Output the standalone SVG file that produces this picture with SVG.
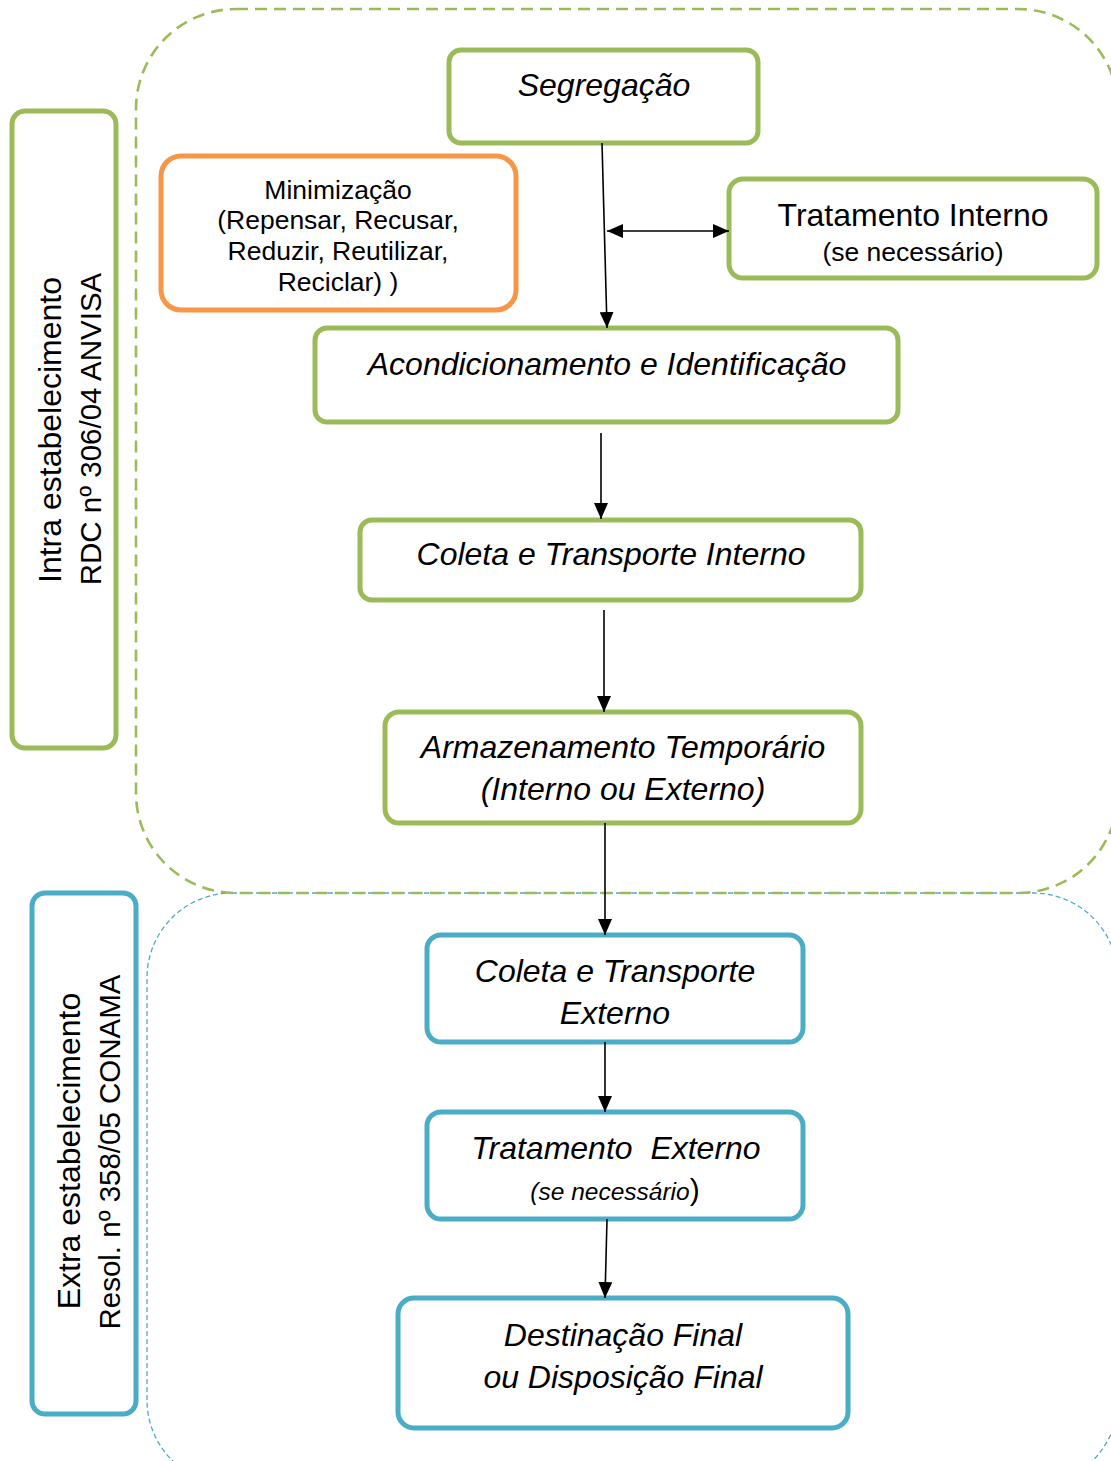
<svg xmlns="http://www.w3.org/2000/svg" width="1111" height="1461" viewBox="0 0 1111 1461">
<defs>
<style>
.t{font-family:"Liberation Sans",Arial,sans-serif;fill:#000;text-anchor:middle}
.i{font-style:italic}
.g{fill:#fff;stroke:#9BBB59;stroke-width:5}
.b{fill:#fff;stroke:#4BACC6;stroke-width:5}
.o{fill:#fff;stroke:#F79646;stroke-width:5}
.c{fill:none;stroke:#000;stroke-width:1.6}
</style>
<marker id="ah" viewBox="0 0 16 14" refX="16" refY="7" markerWidth="16" markerHeight="14" markerUnits="userSpaceOnUse" orient="auto-start-reverse">
<path d="M0,0 L16,7 L0,14 Z" fill="#000"/>
</marker>
</defs>
<rect x="0" y="0" width="1111" height="1461" fill="#fff"/>
<g id="region-extra">
<rect x="147" y="893" width="971" height="592" rx="85" ry="85" fill="none" stroke="#4BACC6" stroke-width="1.3" stroke-dasharray="5 3"/>
</g>
<g id="region-intra">
<rect x="136" y="9" width="982" height="884" rx="100" ry="100" fill="none" stroke="#9BBB59" stroke-width="2.6" stroke-dasharray="12 7"/>
</g>
<g id="label-intra">
<rect class="g" x="12" y="111" width="104" height="637" rx="13"/>
<text class="t" font-size="32" transform="translate(61,430) rotate(-90)">Intra estabelecimento</text>
<text class="t" font-size="29.5" transform="translate(101,429) rotate(-90)">RDC nº 306/04 ANVISA</text>
</g>
<g id="label-extra">
<rect class="b" x="32" y="893" width="104" height="521" rx="13"/>
<text class="t" font-size="32" transform="translate(80,1151) rotate(-90)">Extra estabelecimento</text>
<text class="t" font-size="29.5" transform="translate(120,1152) rotate(-90)">Resol. nº 358/05 CONAMA</text>
</g>
<g id="n-segregacao">
<rect class="g" x="449" y="50" width="309" height="93" rx="12"/>
<text class="t i" font-size="32" x="604" y="96">Segregação</text>
</g>
<g id="n-minimizacao">
<rect class="o" x="161" y="156" width="355" height="154" rx="20"/>
<text class="t" font-size="26.5" x="338" y="199">Minimização</text>
<text class="t" font-size="26.5" x="338" y="229">(Repensar, Recusar,</text>
<text class="t" font-size="26.5" x="338" y="260">Reduzir, Reutilizar,</text>
<text class="t" font-size="26.5" x="338" y="291">Reciclar) )</text>
</g>
<g id="n-tratamento-interno">
<rect class="g" x="729" y="179" width="368" height="99" rx="14"/>
<text class="t" font-size="32" x="913" y="226">Tratamento Interno</text>
<text class="t" font-size="26.5" x="913" y="261">(se necessário)</text>
</g>
<g id="n-acondicionamento">
<rect class="g" x="315" y="328" width="583" height="94" rx="12"/>
<text class="t i" font-size="32" x="607" y="375">Acondicionamento e Identificação</text>
</g>
<g id="n-coleta-interno">
<rect class="g" x="360" y="520" width="501" height="80" rx="12"/>
<text class="t i" font-size="32" x="611" y="565">Coleta e Transporte Interno</text>
</g>
<g id="n-armazenamento">
<rect class="g" x="385" y="712" width="476" height="111" rx="14"/>
<text class="t i" font-size="32" x="623" y="758">Armazenamento Temporário</text>
<text class="t i" font-size="32" x="623" y="800">(Interno ou Externo)</text>
</g>
<g id="n-coleta-externo">
<rect class="b" x="427" y="935" width="376" height="107" rx="14"/>
<text class="t i" font-size="32" x="615" y="982">Coleta e Transporte</text>
<text class="t i" font-size="32" x="615" y="1024">Externo</text>
</g>
<g id="n-tratamento-externo">
<rect class="b" x="427" y="1112" width="376" height="107" rx="14"/>
<text class="t i" font-size="32" x="616" y="1159" xml:space="preserve">Tratamento  Externo</text>
<text class="t" x="615" y="1200"><tspan class="i" font-size="24.5">(se necessário</tspan><tspan font-size="30">)</tspan></text>
</g>
<g id="n-destinacao">
<rect class="b" x="398" y="1298" width="450" height="130" rx="16"/>
<text class="t i" font-size="32" x="623" y="1346">Destinação Final</text>
<text class="t i" font-size="32" x="623" y="1388">ou Disposição Final</text>
</g>
<g id="connectors">
<line class="c" x1="602" y1="143" x2="607" y2="328" marker-end="url(#ah)"/>
<line class="c" x1="607" y1="231" x2="729" y2="231" marker-start="url(#ah)" marker-end="url(#ah)"/>
<line class="c" x1="601" y1="433" x2="601" y2="519" marker-end="url(#ah)"/>
<line class="c" x1="604" y1="610" x2="604" y2="712" marker-end="url(#ah)"/>
<line class="c" x1="605" y1="823" x2="605" y2="935" marker-end="url(#ah)"/>
<line class="c" x1="605" y1="1042" x2="605" y2="1112" marker-end="url(#ah)"/>
<line class="c" x1="607" y1="1219" x2="605" y2="1298" marker-end="url(#ah)"/>
</g>
</svg>
